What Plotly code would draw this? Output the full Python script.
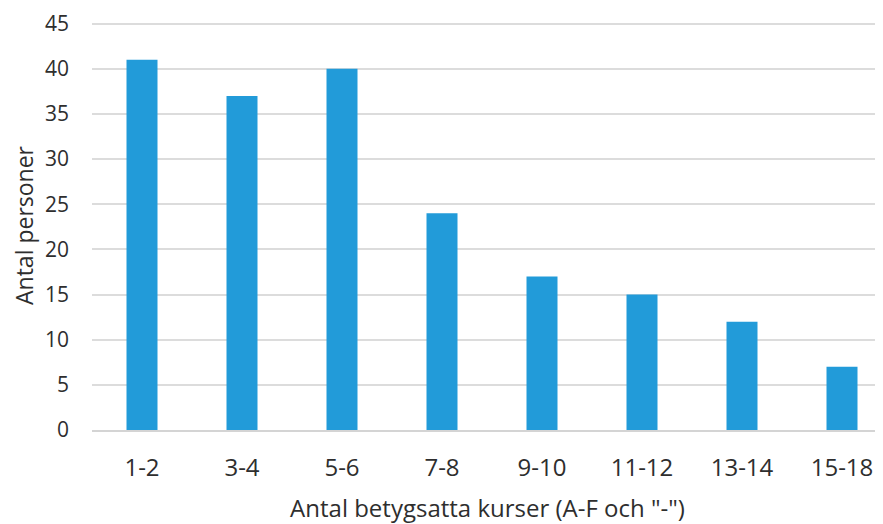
import plotly.graph_objects as go

categories = ["1-2", "3-4", "5-6", "7-8", "9-10", "11-12", "13-14", "15-18"]
antal_personer = [41, 37, 40, 24, 17, 15, 12, 7]
y_ticks = [0, 5, 10, 15, 20, 25, 30, 35, 40, 45]

fig = go.Figure(
    go.Bar(
        x=categories,
        y=antal_personer,
        width=0.31,
        marker_color="#229bd9",
        marker_line_width=0,
    )
)

# the page body adds an 8px margin, so the figure is a little smaller than the window
fig.update_layout(
    width=875,
    height=516,
    paper_bgcolor="white",
    plot_bgcolor="white",
    font={"family": "Open Sans, sans-serif", "color": "#2e2e2e"},
    margin=dict(l=84, r=0, t=13, b=94),
    showlegend=False,
    xaxis={
        "type": "category",
        "title": {"text": "Antal betygsatta kurser (A-F och \"-\")", "font": {"size": 24}, "standoff": 21},
        "tickfont": {"size": 24},
        "range": [-0.5, 7.41],
        "showgrid": False,
        "showline": True,
        "linecolor": "#d4d4d4",
        "linewidth": 2,
        "ticks": "",
        "ticklabelstandoff": 15,
        "automargin": False,
    },
    yaxis={
        "title": {"text": "Antal personer", "font": {"size": 23}, "standoff": 16},
        "tickfont": {"size": 21},
        "range": [0, 45.3],
        "tickvals": y_ticks,
        "gridcolor": "#dcdcdc",
        "gridwidth": 1.5,
        "zeroline": False,
        "ticks": "",
        "ticklabelstandoff": 22,
        "ticklabeloverflow": "allow",
        "automargin": False,
    },
)

fig.write_html("out.html")
